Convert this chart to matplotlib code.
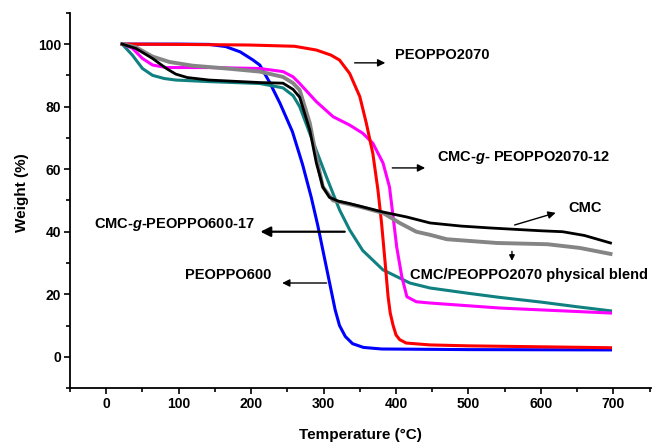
import matplotlib
matplotlib.use("Agg")
import matplotlib.pyplot as plt
from matplotlib.ticker import MultipleLocator

plt.rcParams['font.family'] = ['Liberation Sans', 'DejaVu Sans']
plt.rcParams['font.weight'] = 'bold'
plt.rcParams['mathtext.fontset'] = 'custom'
plt.rcParams['mathtext.rm'] = 'Liberation Sans:bold'
plt.rcParams['mathtext.bfit'] = 'Liberation Sans:italic:bold'
plt.rcParams['mathtext.it'] = 'Liberation Sans:italic:bold'

# TGA curves (temperature in C, weight in %)
peo2070_t = [22, 100, 198, 260, 290, 310, 322, 336, 350, 359, 368, 375, 380, 385, 389, 392, 396, 400, 405, 414, 447, 500, 600, 696]
peo2070_w = [100, 99.9, 99.7, 99.3, 98.1, 96.5, 94.9, 90.6, 83.2, 74.7, 65, 53.4, 42.8, 30, 19.3, 14, 10, 7, 5.5, 4.4, 3.8, 3.5, 3.2, 2.9]

peo600_t = [22, 100, 142, 165, 185, 202, 212, 225, 240, 257, 271, 283, 292, 300, 308, 316, 322, 330, 340, 355, 380, 500, 696]
peo600_w = [100, 100, 99.9, 99.2, 97.5, 95, 93.3, 88, 81, 72, 61.5, 51, 42, 33, 24, 15, 10, 6.5, 4.2, 3, 2.5, 2.3, 2.2]

g600_t = [22, 36, 50, 64, 80, 96, 142, 212, 244, 258, 267, 285, 304, 322, 336, 354, 382, 419, 447, 500, 543, 600, 650, 696]
g600_w = [100, 96.5, 92.2, 90, 89, 88.5, 88, 87.4, 86, 83.5, 80, 69, 57.5, 47, 40.6, 34, 27.8, 23.6, 22, 20.3, 19, 17.5, 16, 14.7]

g2070_t = [22, 36, 50, 64, 83, 142, 212, 244, 258, 267, 290, 313, 336, 354, 368, 382, 391, 396, 401, 408, 415, 428, 447, 543, 696]
g2070_w = [100, 98.7, 95.4, 93.3, 92.5, 92.5, 92.2, 91.2, 89.5, 87.4, 81.6, 76.8, 74.1, 71.5, 68.3, 62, 54.3, 44.7, 35, 25.6, 19.2, 17.6, 17.2, 15.6, 14]

cmc_t = [22, 41, 64, 83, 96, 112, 142, 212, 244, 258, 267, 281, 290, 299, 308, 320, 336, 382, 415, 447, 490, 530, 600, 630, 660, 696]
cmc_w = [100, 98.6, 95.4, 92.2, 90.4, 89.3, 88.5, 87.7, 87.5, 85.5, 83, 72.5, 62, 54.3, 51, 49.8, 49, 46.3, 44.7, 42.8, 41.8, 41.2, 40.3, 40, 38.8, 36.4]

blend_t = [22, 41, 64, 87, 119, 166, 212, 244, 258, 267, 281, 290, 299, 313, 350, 382, 405, 428, 447, 470, 539, 609, 654, 696]
blend_w = [100, 99, 96, 94.3, 93.1, 92.2, 91.2, 89.5, 87.5, 85.3, 74.7, 64, 54.3, 50, 48, 46, 42.8, 40, 39, 37.6, 36.4, 36, 34.8, 32.9]

fig = plt.figure(figsize=(6.57, 4.42), dpi=100)
ax = fig.add_axes([0.1065, 0.122, 0.8845, 0.849])

lw = 2.2
ax.plot(peo600_t, peo600_w, color='#0000ff', lw=lw)
ax.plot(g600_t, g600_w, color='#108080', lw=lw)
ax.plot(g2070_t, g2070_w, color='#ff00ff', lw=lw)
ax.plot(peo2070_t, peo2070_w, color='#ff0000', lw=lw)
ax.plot(blend_t, blend_w, color='#858585', lw=lw + 0.6)
ax.plot(cmc_t, cmc_w, color='black', lw=lw - 0.2)

ax.set_xlim(-50, 752)
ax.set_ylim(-10, 110)
ax.xaxis.set_minor_locator(MultipleLocator(50))
ax.yaxis.set_minor_locator(MultipleLocator(10))
ax.set_xticks(range(0, 701, 100))
ax.set_yticks(range(0, 101, 20))
ax.tick_params(which='major', direction='out', length=4, width=1.2, labelsize=10, pad=2.5)
ax.tick_params(which='minor', direction='out', length=3, width=1.2)
for s in ['top', 'right']:
    ax.spines[s].set_visible(False)
for s in ['left', 'bottom']:
    ax.spines[s].set_linewidth(1.3)

ax.set_xlabel('Temperature (°C)', fontsize=11, fontweight='bold')
ax.set_ylabel('Weight (%)', fontsize=11, fontweight='bold')
ax.xaxis.set_label_coords(0.5, -0.107)
ax.yaxis.set_label_coords(-0.07, 0.52)

# annotations with arrows
arr = dict(arrowstyle='-|>', color='black', lw=1, mutation_scale=11)
fs = 10.5
ax.annotate('', xy=(389, 94), xytext=(339, 94), arrowprops=arr)
ax.text(398, 96.5, 'PEOPPO2070', fontsize=fs, fontweight='bold', va='center', ha='left')

ax.annotate('', xy=(444, 60.4), xytext=(391, 60.4), arrowprops=arr)
ax.text(456, 63.6, r'CMC-$\mathbfit{g}$- PEOPPO2070-12', fontsize=fs, fontweight='bold', va='center', ha='left')

ax.annotate('', xy=(624, 46.3), xytext=(560, 41.9), arrowprops=arr)
ax.text(638, 47.6, 'CMC', fontsize=fs, fontweight='bold', va='center', ha='left')

arr_big = dict(arrowstyle='-|>', color='black', lw=1.6, mutation_scale=15)
ax.annotate('', xy=(209, 40), xytext=(333, 40), arrowprops=arr_big)
ax.text(205, 42.2, r'CMC-$\mathbfit{g}$-PEOPPO600-17', fontsize=fs, fontweight='bold', va='center', ha='right')

ax.annotate('', xy=(239, 23.6), xytext=(308, 23.6), arrowprops=arr)
ax.text(228, 26, 'PEOPPO600', fontsize=fs, fontweight='bold', va='center', ha='right')

ax.annotate('', xy=(560, 29.8), xytext=(560, 34.6), arrowprops=dict(arrowstyle='-|>', color='black', lw=1, mutation_scale=8))
ax.text(419, 26, 'CMC/PEOPPO2070 physical blend', fontsize=fs, fontweight='bold', va='center', ha='left')

fig.savefig('out.png', dpi=100)
